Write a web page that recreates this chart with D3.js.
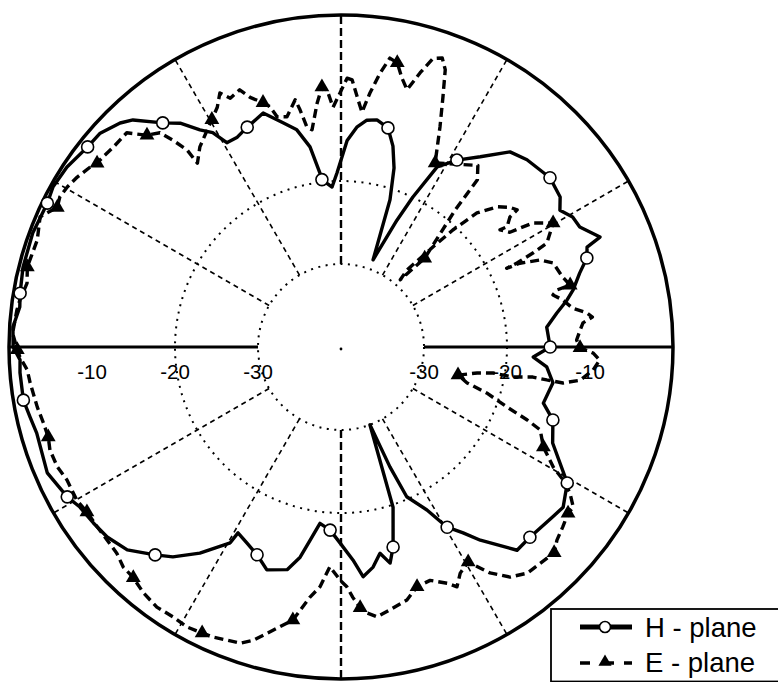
<!DOCTYPE html>
<html>
<head>
<meta charset="utf-8">
<script src="https://cdn.jsdelivr.net/npm/d3@7"></script>
<style>
  html, body { margin: 0; padding: 0; background: #fff; }
  svg { display: block; }
  text { font-family: "Liberation Sans", Arial, Helvetica, sans-serif; fill: #000; }
</style>
</head>
<body>
<svg id="chart" width="778" height="682"></svg>
<script>
// Radial scale: centre = -40 dB, outer circle = 0 dB
const dbMin = -40, dbMax = 0;
const ringLevels = [-30, -20];
const ringLabels = [-10, -20, -30];
const spokeAngles = [30, 60, 120, 150, 210, 240, 300, 330];

// H-plane pattern: angle (deg, clockwise from top) and level (dB)
const hAngle = [1.7, 4.2, 6.5, 9.0, 12.1, 14.5, 16.5, 18.4, 20.2, 23.8, 25.6, 28.1, 31.8, 36.2, 40.9, 44.8, 51.0, 55.6, 58.0, 60.7,
  63.3, 67.0, 67.9, 70.1, 72.8, 76.2, 78.3, 81.1, 84.5, 90.0, 93.0, 95.5, 99.6, 105.5, 109.0, 114.4, 121.0, 125.8, 128.7, 135.2,
  139.1, 144.2, 146.7, 149.5, 152.2, 156.3, 157.8, 159.6, 162.0, 165.4, 167.2, 169.3, 171.7, 174.5, 176.8, 180.3, 183.4, 186.8, 189.1, 191.0,
  193.6, 198.4, 202.0, 205.6, 209.0, 209.5, 214.4, 218.7, 221.8, 226.5, 230.9, 234.6, 238.5, 241.3, 246.8, 254.2, 257.3, 260.5, 265.4, 267.7,
  270.0, 273.5, 277.1, 279.5, 284.1, 290.3, 296.1, 299.1, 303.3, 308.3, 311.6, 315.4, 317.5, 321.5, 324.3, 327.0, 329.1, 330.8, 333.7, 336.9,
  341.6, 345.5, 348.5, 351.2, 353.1, 353.5, 356.8, 358.7];
const hDb = [-15.1, -13.4, -12.5, -12.3, -13.0, -15.0, -17.5, -21.3, -28.8, -23.3, -20.0, -15.4, -13.5, -11.6, -8.9, -8.2, -7.6, -8.0, -8.9, -8.0,
  -7.8, -6.1, -8.0, -8.5, -9.9, -11.2, -12.2, -13.7, -15.1, -14.8, -16.8, -15.1, -14.1, -14.7, -13.0, -12.0, -8.2, -7.0, -7.3, -7.7,
  -7.6, -11.3, -13.2, -14.8, -17.8, -20.3, -24.4, -30.0, -19.7, -15.1, -13.3, -14.7, -13.2, -12.2, -14.3, -16.4, -17.9, -18.6, -16.4, -14.2,
  -12.4, -11.7, -13.0, -13.8, -14.4, -12.9, -9.9, -7.6, -6.4, -4.5, -3.7, -3.4, -3.1, -2.4, -1.5, -1.9, -1.6, -1.2, -1.2, -1.3,
  -0.5, -0.4, -1.0, -0.8, -0.5, -0.4, -0.6, -0.3, -0.5, -1.1, -1.2, -2.1, -2.9, -5.5, -6.8, -8.8, -9.9, -11.8, -11.8, -11.2,
  -10.3, -12.1, -13.3, -15.6, -18.9, -19.7, -20.7, -19.0];
// indices of H-plane samples carrying a circle marker
const hMarks = [4, 12, 16, 23, 29, 34, 36, 39, 43, 49, 56, 62, 68, 73, 77, 83, 86, 89, 93, 99, 105];

// E-plane pattern
const eAngle = [1.3, 2.4, 3.7, 5.1, 6.5, 8.1, 9.6, 11.2, 12.8, 14.4, 16.1, 17.7, 19.3, 20.6, 22.2, 24.2, 27.1, 37.0, 39.2, 39.8,
  43.3, 41.4, 40.6, 42.6, 43.7, 45.4, 48.1, 50.4, 52.1, 52.4, 54.1, 53.6, 55.8, 57.1, 59.7, 63.2, 63.9, 64.5, 64.6, 64.9,
  66.4, 68.4, 72.5, 74.9, 75.2, 76.2, 78.0, 80.5, 82.1, 83.2, 84.3, 85.9, 88.3, 90.2, 91.4, 92.9, 95.2, 97.9, 99.2, 99.1,
  98.9, 99.9, 99.7, 100.8, 103.5, 105.9, 107.5, 109.9, 111.4, 112.6, 116.3, 119.5, 120.9, 122.5, 124.6, 126.2, 129.0, 131.8, 134.0, 140.5,
  143.7, 146.6, 149.4, 152.2, 154.2, 155.8, 159.1, 162.4, 165.4, 169.4, 172.4, 174.4, 175.8, 177.3, 178.6, 180.2, 182.9, 185.0, 187.1, 190.0,
  193.5, 196.7, 198.8, 201.3, 203.8, 205.9, 208.8, 211.9, 215.3, 218.8, 222.0, 224.7, 227.4, 233.6, 237.0, 239.9, 244.1, 247.1, 250.5, 252.9,
  255.7, 258.8, 263.4, 265.8, 268.2, 269.5, 272.4, 276.5, 278.3, 281.5, 284.3, 289.4, 293.4, 296.2, 298.1, 300.3, 302.8, 305.6, 307.0, 308.6,
  311.3, 315.0, 317.5, 319.8, 320.9, 322.0, 322.0, 324.8, 328.3, 330.4, 332.7, 334.5, 336.0, 338.5, 340.0, 342.3, 343.5, 344.5, 346.8, 349.5,
  350.2, 351.2, 352.4, 354.4, 355.8, 356.9, 358.1, 359.3];
const eDb = [-7.6, -7.8, -9.8, -11.6, -9.2, -6.7, -4.7, -5.1, -6.8, -8.0, -5.6, -3.5, -3.1, -4.3, -7.5, -10.9, -15.1, -12.6, -14.0, -18.5,
  -25.3, -29.2, -27.8, -23.6, -20.5, -17.0, -14.7, -13.6, -13.1, -14.3, -15.3, -16.2, -15.4, -12.5, -10.4, -12.2, -14.2, -16.5, -17.9, -16.2,
  -13.8, -12.5, -12.0, -11.4, -13.1, -13.7, -12.7, -11.7, -10.1, -9.5, -10.7, -11.1, -11.6, -11.2, -9.6, -8.8, -9.5, -10.9, -12.9, -14.9,
  -16.6, -19.0, -21.4, -23.3, -25.5, -24.2, -21.6, -18.7, -15.9, -14.0, -12.8, -10.6, -8.8, -7.3, -6.0, -6.1, -5.6, -5.1, -4.3, -4.7,
  -5.6, -7.4, -9.9, -9.2, -7.9, -8.8, -9.9, -9.7, -8.5, -7.8, -7.2, -7.8, -8.5, -9.8, -11.1, -11.9, -13.5, -11.0, -9.6, -6.6,
  -4.9, -3.1, -2.3, -2.1, -1.8, -1.7, -1.5, -1.7, -1.6, -2.0, -2.6, -2.7, -3.3, -3.5, -3.5, -3.2, -3.3, -2.9, -2.8, -3.1,
  -3.0, -2.7, -2.3, -2.1, -1.3, -1.0, -0.4, -0.7, -0.9, -1.4, -1.0, -1.2, -0.5, -1.9, -1.6, -1.8, -2.2, -2.8, -3.2, -3.3,
  -3.5, -3.5, -5.4, -6.2, -7.9, -9.9, -11.9, -10.5, -9.3, -8.5, -7.5, -6.1, -7.2, -6.7, -8.0, -9.1, -9.8, -11.2, -11.5, -9.7,
  -11.0, -13.2, -13.6, -10.5, -8.6, -9.0, -11.1, -9.9];
// indices of E-plane samples carrying a triangle marker
const eMarks = [7, 16, 20, 34, 43, 53, 64, 70, 75, 78, 82, 87, 92, 99, 105, 110, 114, 119, 125, 130, 133, 138, 142, 149, 155, 164];

const legendNames = ["H - plane", "E - plane"];

const svg = d3.select("#chart");
const cx = 341, cy = 347, outerR = 332;
const r = d3.scaleLinear().domain([dbMin, dbMax]).range([0, outerR]);
const rad = a => a * Math.PI / 180;
const g = svg.append("g").attr("transform", `translate(${cx},${cy})`);

// dotted level rings
g.selectAll("circle.ring").data(ringLevels).join("circle")
  .attr("class", "ring").attr("r", d => r(d))
  .attr("fill", "none").attr("stroke", "#000").attr("stroke-width", 2)
  .attr("stroke-dasharray", "2,5.5");

// dashed spokes from the -30 dB ring to the rim
const r0 = r(-30);
const spokePt = (a, rr) => [rr * Math.sin(rad(a)), -rr * Math.cos(rad(a))];
g.selectAll("line.spoke").data(spokeAngles).join("line")
  .attr("class", "spoke")
  .attr("x1", d => spokePt(d, r0)[0]).attr("y1", d => spokePt(d, r0)[1])
  .attr("x2", d => spokePt(d, outerR)[0]).attr("y2", d => spokePt(d, outerR)[1])
  .attr("stroke", "#000").attr("stroke-width", 1.6).attr("stroke-dasharray", "5,4");

// vertical axis (0 / 180 deg): heavier dashes
g.selectAll("line.vaxis").data([0, 180]).join("line")
  .attr("class", "vaxis")
  .attr("x1", d => spokePt(d, r0)[0]).attr("y1", d => spokePt(d, r0)[1])
  .attr("x2", d => spokePt(d, outerR)[0]).attr("y2", d => spokePt(d, outerR)[1])
  .attr("stroke", "#000").attr("stroke-width", 2.4).attr("stroke-dasharray", "8,4");

// horizontal axis (90 / 270 deg): solid
g.selectAll("line.haxis").data([90, 270]).join("line")
  .attr("class", "haxis")
  .attr("x1", d => spokePt(d, r0)[0]).attr("y1", d => spokePt(d, r0)[1])
  .attr("x2", d => spokePt(d, outerR)[0]).attr("y2", d => spokePt(d, outerR)[1])
  .attr("stroke", "#000").attr("stroke-width", 2.8);

// outer rim
g.append("circle").attr("r", outerR).attr("fill", "none")
  .attr("stroke", "#000").attr("stroke-width", 3.5);

// centre dot
g.append("circle").attr("cx", 0).attr("cy", 2).attr("r", 1.4).attr("fill", "#000");

// level labels on both sides of the horizontal axis
const labelData = ringLabels.flatMap(v => [{ v, s: -1 }, { v, s: 1 }]);
g.selectAll("text.lvl").data(labelData).join("text")
  .attr("class", "lvl")
  .attr("x", d => d.s * r(d.v)).attr("y", 32)
  .attr("text-anchor", "middle").attr("font-size", 20.5)
  .text(d => d.v);

// pattern curves
const radial = d3.lineRadial()
  .angle(d => rad(d[0])).radius(d => r(d[1]))
  .curve(d3.curveLinearClosed);
const hPts = hAngle.map((a, i) => [a, hDb[i]]);
const ePts = eAngle.map((a, i) => [a, eDb[i]]);
const toXY = d => [r(d[1]) * Math.sin(rad(d[0])), -r(d[1]) * Math.cos(rad(d[0]))];

g.append("path").datum(ePts).attr("d", radial)
  .attr("fill", "none").attr("stroke", "#000").attr("stroke-width", 3.4)
  .attr("stroke-dasharray", "9,5").attr("stroke-linejoin", "round");
g.append("path").datum(hPts).attr("d", radial)
  .attr("fill", "none").attr("stroke", "#000").attr("stroke-width", 3.4)
  .attr("stroke-linejoin", "round");

const tri = d3.symbol().type(d3.symbolTriangle).size(95);
g.selectAll("path.emark").data(eMarks.map(i => ePts[i])).join("path")
  .attr("class", "emark").attr("d", tri)
  .attr("transform", d => `translate(${toXY(d)[0]},${toXY(d)[1]})`)
  .attr("fill", "#000");
g.selectAll("circle.hmark").data(hMarks.map(i => hPts[i])).join("circle")
  .attr("class", "hmark")
  .attr("cx", d => toXY(d)[0]).attr("cy", d => toXY(d)[1]).attr("r", 6)
  .attr("fill", "#fff").attr("stroke", "#000").attr("stroke-width", 1.6);

// legend
const lg = svg.append("g");
lg.append("rect").attr("x", 551).attr("y", 609).attr("width", 240).attr("height", 72.5)
  .attr("fill", "#fff").attr("stroke", "#000").attr("stroke-width", 1.8);
lg.append("line").attr("x1", 580).attr("x2", 632).attr("y1", 627).attr("y2", 627)
  .attr("stroke", "#000").attr("stroke-width", 5);
lg.append("circle").attr("cx", 605).attr("cy", 627).attr("r", 5.5)
  .attr("fill", "#fff").attr("stroke", "#000").attr("stroke-width", 1.6);
lg.append("line").attr("x1", 580).attr("x2", 632).attr("y1", 663).attr("y2", 663)
  .attr("stroke", "#000").attr("stroke-width", 3.4).attr("stroke-dasharray", "10,7,0,5,12");
lg.append("path").attr("d", d3.symbol().type(d3.symbolTriangle).size(75))
  .attr("transform", "translate(605,662)").attr("fill", "#000");
lg.selectAll("text.lg").data(legendNames).join("text")
  .attr("class", "lg").attr("x", 645).attr("y", (d, i) => 637 + i * 35)
  .attr("font-size", 27.5).text(d => d);
</script>
</body>
</html>
